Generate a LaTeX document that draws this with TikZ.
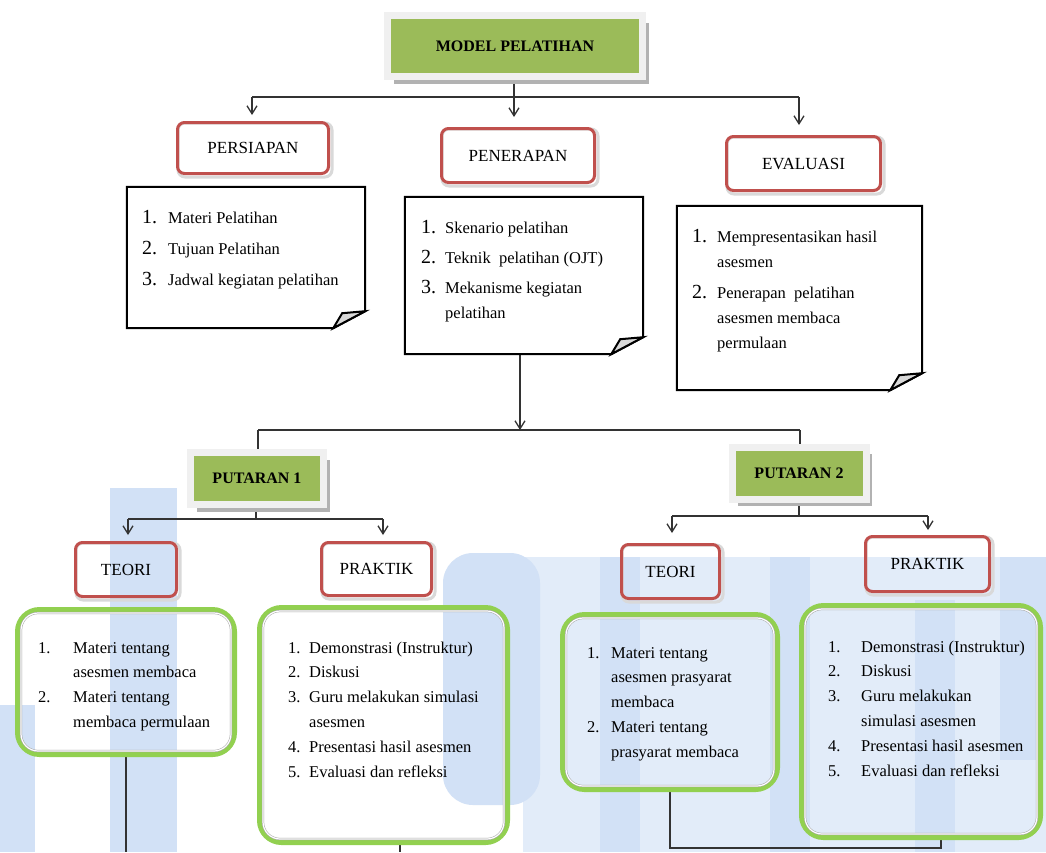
\documentclass[tikz,border=0pt]{standalone}
\usepackage{fontspec}
\setmainfont{Liberation Serif}
\usetikzlibrary{arrows.meta,shadows}
\definecolor{redb}{HTML}{C0504D}
\definecolor{greenf}{HTML}{9BBB59}
\definecolor{greenl}{HTML}{92D050}
\definecolor{wma}{HTML}{D2E1F6}
\definecolor{wmb}{HTML}{E2ECF9}
\pgfdeclarelayer{back}
\pgfdeclarelayer{bg}
\pgfsetlayers{back,bg,main}
\newcommand\rowi[3]{\makebox[#1][l]{#2}#3}
\newcommand\bignum[1]{{\fontsize{20}{25}\selectfont #1}}
\tikzset{
  hdr/.style={draw=black!6, line width=7pt, fill=greenf, inner sep=0pt,
    font=\bfseries\fontsize{16}{19}\selectfont,
    drop shadow={shadow xshift=6pt, shadow yshift=-7pt, fill=black!30, opacity=1}},
  redbox/.style={draw=redb, line width=3pt, rounded corners=7pt, inner sep=0pt,
    font=\fontsize{17}{20}\selectfont},
  redshadow/.style={draw=black!15, line width=3pt, rounded corners=7pt},
  notebox/.style={inner sep=0pt},
  notel/.style={draw=black, line width=2pt, line join=miter},
  greenbox/.style={draw=greenl, line width=5pt, rounded corners=22pt, inner sep=0pt},
  innerline/.style={draw=black!35, double=white, double distance=1.2pt, line width=0.5pt, rounded corners=17pt},
  lst/.style={anchor=base west, inner sep=0pt, font=\fontsize{16.5}{25}\selectfont},
  glst/.style={anchor=base west, inner sep=0pt, font=\fontsize{16.5}{24.8}\selectfont},
  conn/.style={draw=black!80, line width=1.3pt},
  arr/.style={conn, -{Straight Barb[length=8pt,width=10pt]}}
}
\begin{document}
\begin{tikzpicture}[x=1pt,y=-1pt]
\useasboundingbox (0,0) rectangle (1046,852);
\begin{pgfonlayer}{back}
\fill[white] (0,0) rectangle (1046,852);
% faint watermark behind the lower half
\fill[wmb] (523,557) rectangle (1046,852);
\fill[wma] (110,488) rectangle (177,852);
\fill[wma] (0,705) rectangle (35,852);
\fill[wma, rounded corners=30pt] (443,553) rectangle (540,805);
\fill[wma] (600,557) rectangle (640,852);
\fill[wma] (770,557) rectangle (810,852);
\fill[wma] (915,600) rectangle (955,852);
\fill[wma] (1000,557) rectangle (1046,760);
\end{pgfonlayer}

% header boxes
\node[hdr, minimum width=255pt, minimum height=61pt] (model) at (515,46) {MODEL PELATIHAN};
\node[hdr, minimum width=133pt, minimum height=52pt] (put1) at (257,478.5) {PUTARAN 1};
\node[hdr, minimum width=134pt, minimum height=52pt] (put2) at (799,473) {PUTARAN 2};

% red boxes
\node[redbox, minimum width=151pt, minimum height=51pt] (persiapan) at (253,148) {PERSIAPAN};
\node[redbox, minimum width=153pt, minimum height=54pt] (penerapan) at (518,155.5) {PENERAPAN};
\node[redbox, minimum width=154pt, minimum height=54pt] (evaluasi) at (803.5,163.5) {EVALUASI};
\node[redbox, minimum width=101pt, minimum height=54pt] (teori1) at (126,569.5) {TEORI};
\node[redbox, minimum width=110pt, minimum height=53pt] (praktik1) at (376.5,569) {PRAKTIK};
\node[redbox, minimum width=98pt, minimum height=54pt] (teori2) at (670.5,571.5) {TEORI};
\node[redbox, minimum width=124pt, minimum height=55pt] (praktik2) at (927.5,564) {PRAKTIK};
\begin{pgfonlayer}{bg}
\foreach \r in {persiapan,penerapan,evaluasi,teori1,praktik1,teori2,praktik2}{
  \draw[redshadow] ([shift={(2pt,-2pt)}]\r.north west) rectangle ([shift={(2pt,-2pt)}]\r.south east);
}
\end{pgfonlayer}

% note boxes
\node[notebox, minimum width=238pt, minimum height=141pt] (n1) at (246,257.5) {};
\node[notebox, minimum width=238pt, minimum height=157pt] (n2) at (524,275.5) {};
\node[notebox, minimum width=245pt, minimum height=184pt] (n3) at (799.5,298) {};
\foreach \n in {n1,n2,n3}{
  \draw[notel] (\n.north west) -- (\n.north east) -- ([yshift=17pt]\n.south east)
    -- ([xshift=-32pt]\n.south east) -- (\n.south west) -- cycle;
  \filldraw[notel, fill=black!15] ([xshift=-32pt]\n.south east) -- ([shift={(-23pt,15pt)}]\n.south east)
    -- ([yshift=17pt]\n.south east) -- cycle;
}

% green boxes
\node[greenbox, minimum width=217pt, minimum height=145pt] (g1) at (126,682) {};
\node[greenbox, minimum width=248pt, minimum height=235pt] (g2) at (383.5,725) {};
\node[greenbox, minimum width=215pt, minimum height=175pt] (g3) at (670,702) {};
\node[greenbox, minimum width=239pt, minimum height=232pt] (g4) at (921,721.5) {};
\foreach \g in {g1,g2,g3,g4}{
  \draw[innerline] ([shift={(6pt,-6pt)}]\g.north west) rectangle ([shift={(-6pt,6pt)}]\g.south east);
}

% list texts
\node[lst] (t1) at (142,223) {\begin{tabular}[t]{@{}l@{}}
\rowi{26pt}{\bignum{1.}}{Materi Pelatihan}\\[6pt]
\rowi{26pt}{\bignum{2.}}{Tujuan Pelatihan}\\[6pt]
\rowi{26pt}{\bignum{3.}}{Jadwal kegiatan pelatihan}
\end{tabular}};
\node[lst] (t2) at (421,233) {\begin{tabular}[t]{@{}l@{}}
\rowi{24pt}{\bignum{1.}}{Skenario pelatihan}\\[5pt]
\rowi{24pt}{\bignum{2.}}{Teknik\ \ pelatihan (OJT)}\\[5pt]
\rowi{24pt}{\bignum{3.}}{Mekanisme kegiatan}\\
\rowi{24pt}{}{pelatihan}
\end{tabular}};
\node[lst] (t3) at (692,242) {\begin{tabular}[t]{@{}l@{}}
\rowi{25pt}{\bignum{1.}}{Mempresentasikan hasil}\\
\rowi{25pt}{}{asesmen}\\[6pt]
\rowi{25pt}{\bignum{2.}}{Penerapan\ \ pelatihan}\\
\rowi{25pt}{}{asesmen membaca}\\
\rowi{25pt}{}{permulaan}
\end{tabular}};
\node[glst] (t4) at (38,653) {\begin{tabular}[t]{@{}l@{}}
\rowi{35pt}{1.}{Materi tentang}\\
\rowi{35pt}{}{asesmen membaca}\\
\rowi{35pt}{2.}{Materi tentang}\\
\rowi{35pt}{}{membaca permulaan}
\end{tabular}};
\node[glst] (t5) at (288,653) {\begin{tabular}[t]{@{}l@{}}
\rowi{21pt}{1.}{Demonstrasi (Instruktur)}\\
\rowi{21pt}{2.}{Diskusi}\\
\rowi{21pt}{3.}{Guru melakukan simulasi}\\
\rowi{21pt}{}{asesmen}\\
\rowi{21pt}{4.}{Presentasi hasil asesmen}\\
\rowi{21pt}{5.}{Evaluasi dan refleksi}
\end{tabular}};
\node[glst] (t6) at (587,658) {\begin{tabular}[t]{@{}l@{}}
\rowi{24pt}{1.}{Materi tentang}\\
\rowi{24pt}{}{asesmen prasyarat}\\
\rowi{24pt}{}{membaca}\\
\rowi{24pt}{2.}{Materi tentang}\\
\rowi{24pt}{}{prasyarat membaca}
\end{tabular}};
\node[glst] (t7) at (828,652) {\begin{tabular}[t]{@{}l@{}}
\rowi{33pt}{1.}{Demonstrasi (Instruktur)}\\
\rowi{33pt}{2.}{Diskusi}\\
\rowi{33pt}{3.}{Guru melakukan}\\
\rowi{33pt}{}{simulasi asesmen}\\
\rowi{33pt}{4.}{Presentasi hasil asesmen}\\
\rowi{33pt}{5.}{Evaluasi dan refleksi}
\end{tabular}};

% connectors
\begin{pgfonlayer}{bg}
\coordinate (j0) at (514,97);
\coordinate (a1) at (252,97);
\coordinate (a3) at (799,97);
\draw[conn] (model.south -| j0) -- (j0);
\draw[conn] (a1) -- (a3);
\draw[arr, shorten >=6pt] (a1) -- (a1 |- persiapan.north);
\draw[arr, shorten >=10pt] (j0) -- (j0 |- penerapan.north);
\draw[arr, shorten >=10pt] (a3) -- (a3 |- evaluasi.north);

\coordinate (j1) at (520,430);
\coordinate (k1) at (258,430);
\coordinate (k2) at (800,430);
\draw[arr] (n2.south -| j1) -- (j1);
\draw[conn] (k1) -- (k2);
\draw[conn] (k1) -- (k1 |- put1.north);
\draw[conn] (k2) -- (k2 |- put2.north);

\coordinate (j2) at (256,519);
\coordinate (p1) at (128,519);
\coordinate (p2) at (383,519);
\draw[conn] (put1.south -| j2) -- (j2);
\draw[conn] (p1) -- (p2);
\draw[arr, shorten >=6pt] (p1) -- (p1 |- teori1.north);
\draw[arr, shorten >=6pt] (p2) -- (p2 |- praktik1.north);

\coordinate (j3) at (799,516);
\coordinate (q1) at (672,516);
\coordinate (q2) at (928,516);
\draw[conn] (put2.south -| j3) -- (j3);
\draw[conn] (q1) -- (q2);
\draw[arr, shorten >=10pt] (q1) -- (q1 |- teori2.north);
\draw[arr, shorten >=5pt] (q2) -- (q2 |- praktik2.north);

\coordinate (b1) at (126,852);
\coordinate (b2) at (400,852);
\coordinate (b3) at (670,848);
\coordinate (b4) at (941,848);
\draw[conn] (g1.south -| b1) -- (b1);
\draw[conn] (g2.south -| b2) -- (b2);
\draw[conn] (g3.south -| b3) -- (b3) -- (b4) -- (g4.south -| b4);
\end{pgfonlayer}
\end{tikzpicture}
\end{document}
